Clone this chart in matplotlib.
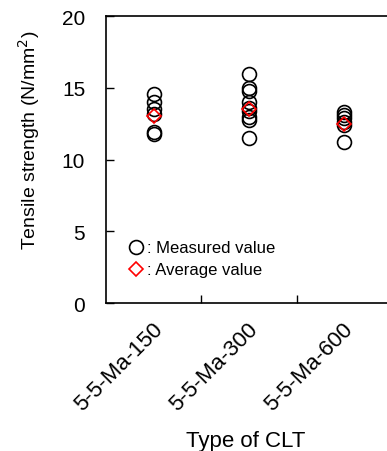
import matplotlib
matplotlib.use("Agg")
import matplotlib.pyplot as plt
import matplotlib.transforms as mtransforms

plt.rcParams['font.family'] = ['Liberation Sans', 'DejaVu Sans']

# data
clt_types = ["5-5-Ma-150", "5-5-Ma-300", "5-5-Ma-600"]
measured_150 = [14.6, 14.0, 13.5, 13.2, 11.9, 11.8]
measured_300 = [16.0, 15.0, 14.8, 14.0, 13.6, 13.4, 13.0, 12.8, 11.5]
measured_600 = [13.3, 13.1, 12.9, 12.6, 12.4, 11.2]
average_values = [13.05, 13.5, 12.5]

fig = plt.figure(figsize=(3.87, 4.52), dpi=100)
ax = fig.add_axes([0.274, 0.327, 0.739, 0.635])

for i, vals in enumerate([measured_150, measured_300, measured_600]):
    ax.plot([i] * len(vals), vals, linestyle='none', marker='o', markersize=10,
            markerfacecolor='none', markeredgecolor='black', markeredgewidth=1.2)

ax.plot(range(len(clt_types)), average_values, linestyle='none', marker='D', markersize=7.5,
        markerfacecolor='none', markeredgecolor='red', markeredgewidth=1.2)

ax.set_xlim(-0.5, 2.5)
ax.set_ylim(0, 20)
ax.set_yticks([0, 5, 10, 15, 20])
ax.set_xticks([0.5, 1.5])
ax.set_xticklabels([])
ax.set_xticks(range(len(clt_types)), minor=True)
ax.set_xticklabels(clt_types, minor=True, rotation=45, ha='right', va='center',
                   rotation_mode='anchor', fontsize=16)
ax.tick_params(axis='x', which='minor', length=0, pad=16)
ax.tick_params(axis='x', which='major', direction='in', length=6, width=1)
ax.tick_params(axis='y', direction='in', length=6, width=1, labelsize=15, pad=15)

# nudge the rotated labels a bit to the right
shift = mtransforms.ScaledTranslation(4 / 72, 0, fig.dpi_scale_trans)
for lbl in ax.get_xticklabels(minor=True):
    lbl.set_transform(lbl.get_transform() + shift)

for s in ax.spines.values():
    s.set_linewidth(1.2)

ax.set_ylabel("Tensile strength (N/mm$^2$)", fontsize=14)
ax.yaxis.set_label_coords(-0.225, 0.571)
ax.set_xlabel("Type of CLT", fontsize=16)
ax.xaxis.set_label_coords(0.49, -0.443)

# legend as marker + text
ax.plot([0.105], [0.195], transform=ax.transAxes, marker='o', markersize=10,
        markerfacecolor='none', markeredgecolor='black', markeredgewidth=1.2, clip_on=False)
ax.text(0.143, 0.195, ": Measured value", transform=ax.transAxes, fontsize=12, va='center')
ax.plot([0.105], [0.118], transform=ax.transAxes, marker='D', markersize=7.5,
        markerfacecolor='none', markeredgecolor='red', markeredgewidth=1.2, clip_on=False)
ax.text(0.143, 0.118, ": Average value", transform=ax.transAxes, fontsize=12, va='center')

fig.savefig("out.png", dpi=100)
